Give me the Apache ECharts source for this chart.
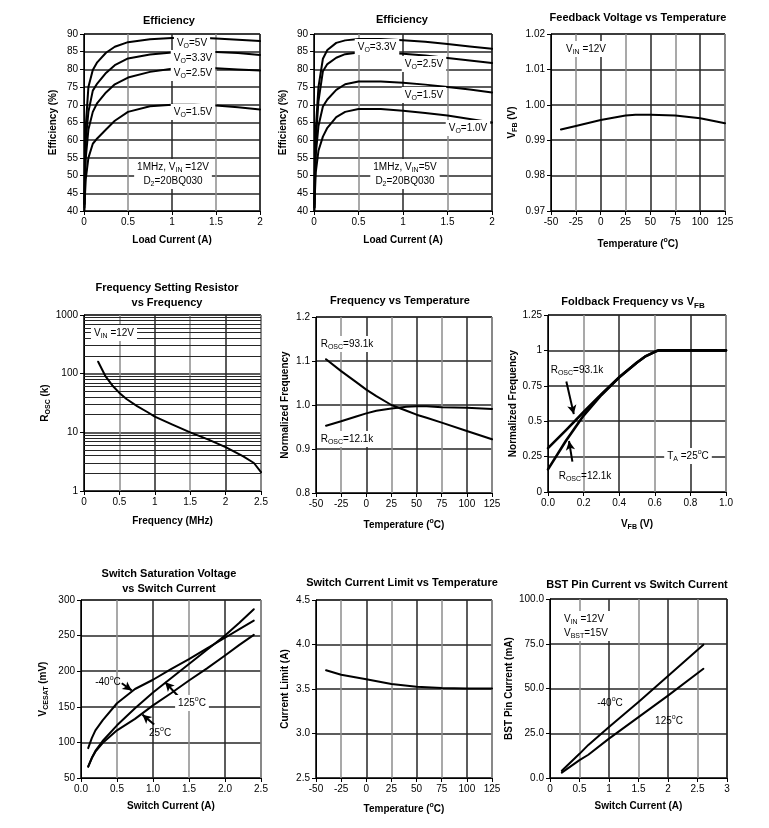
<!DOCTYPE html>
<html><head><meta charset="utf-8">
<script src="https://cdn.jsdelivr.net/npm/echarts@6/dist/echarts.min.js"></script>
<style>body{margin:0;background:#fff}#c{width:769px;height:828px}</style>
</head><body><div id="c"></div>
<script>
// ---------- DATA ----------
const loadA = [0.005,0.01,0.02,0.05,0.1,0.15,0.25,0.35,0.5,0.75,1.0,1.25,1.5,1.75,2.0];
const eff12_5V  = [42,53,64,75,79.8,82,84.7,86.4,87.7,88.5,88.9,89.0,88.7,88.4,88.0];
const eff12_33V = [42,50,60,68,74,76,79,81.2,83.1,84.2,84.8,84.9,84.9,84.6,84.1];
const eff12_25V = [41,47,55,63,68,70.5,73.5,75.8,77.7,79.3,80.2,80.4,80.3,80.0,79.7];
const eff12_15V = [40,44,49,55,59,60.5,63,65.5,68,69.6,70,70,69.8,69.3,68.7];
const eff5_33V = [42,52,63,75,83,85.5,87.5,88.2,88.6,88.6,88.2,87.8,87.2,86.5,85.8];
const eff5_25V = [41,50,60,71,79.5,81.5,83.3,84.3,84.8,84.8,84.4,83.9,83.2,82.5,81.8];
const eff5_15V = [41,48,56,64,69.5,71.5,74.2,75.8,76.6,76.6,76.2,75.7,75.0,74.3,73.5];
const eff5_10V = [40,45,51,57,61,63.5,66.5,68,68.8,68.8,68.3,67.7,67.0,66.0,65.0];
const fbTemp = [-40,-25,0,25,35,50,75,100,125];
const fbVolt = [0.9930,0.9940,0.9957,0.9970,0.9972,0.9972,0.9970,0.9962,0.9948];
const roscFreq = [0.2,0.3,0.4,0.5,0.6,0.75,0.9,1.0,1.25,1.5,1.75,2.0,2.25,2.4,2.5];
const roscK = [160,92,63,47,37,28,22,18.5,13.5,10,7.6,5.6,3.9,3.0,2.1];
const logMinor = [2,3,4,5,6,7,8,9,20,30,40,50,60,70,80,90,200,300,400,500,600,700,800,900];
const fTemp = [-40,-25,-10,0,10,25,40,50,60,75,100,125];
const fNorm93 = [1.104,1.077,1.052,1.035,1.020,1.0,0.987,0.978,0.971,0.960,0.941,0.922];
const fNorm12 = [0.953,0.963,0.974,0.981,0.987,0.992,0.996,0.997,0.997,0.995,0.994,0.991];
const vfb = [0,0.1,0.2,0.3,0.4,0.5,0.55,0.6,0.62,1.0];
const fold93 = [0.31,0.435,0.565,0.69,0.81,0.915,0.96,0.99,1.0,1.0];
const fold12 = [0.16,0.36,0.54,0.685,0.81,0.915,0.96,0.99,1.0,1.0];
const swI = [0.1,0.15,0.2,0.3,0.5,0.75,1.0,1.25,1.5,1.75,2.0,2.2,2.4];
const vsatM40 = [92,106,117,131,155,175,188,203,217,232,247,259,271];
const vsat25  = [66,78,87,99,117,133,152,169,187,204,222,237,251];
const vsat125 = [66,78,88,102,124,148,170,190,210,230,250,268,287];
const climTemp = [-40,-25,0,25,50,75,100,125];
const climA = [3.71,3.66,3.61,3.555,3.525,3.51,3.505,3.505];
const bstI = [0.2,0.5,0.65,1.0,1.5,2.0,2.6];
const bstM40 = [4,13.5,18.5,28.5,42.5,57,74.5];
const bst125 = [3,10,13,22,34,46,61];

// ---------- HELPERS ----------
const FF = "'Liberation Sans', Arial, sans-serif";
const zip = (xs, ys) => xs.map((x, i) => [x, ys[i]]);
const RICH = {
  n:{fontSize:10,lineHeight:14,verticalAlign:'middle',fontFamily:FF,color:'#000'},
  s:{fontSize:7,lineHeight:14,verticalAlign:'bottom',fontFamily:FF,color:'#000'},
  p:{fontSize:7,lineHeight:14,verticalAlign:'top',fontFamily:FF,color:'#000'},
  bn:{fontSize:10,lineHeight:14,verticalAlign:'middle',fontFamily:FF,fontWeight:'bold',color:'#000'},
  bs:{fontSize:7,lineHeight:14,verticalAlign:'bottom',fontFamily:FF,fontWeight:'bold',color:'#000'},
  bp:{fontSize:7,lineHeight:14,verticalAlign:'top',fontFamily:FF,fontWeight:'bold',color:'#000'},
  t:{fontSize:11,lineHeight:15,verticalAlign:'middle',fontFamily:FF,fontWeight:'bold',color:'#000'},
  ts:{fontSize:8,lineHeight:15,verticalAlign:'bottom',fontFamily:FF,fontWeight:'bold',color:'#000'}
};
const gridBoxes = [
  [84,34,176,177],[314,34,178,177],[551,34,174,177],
  [84,315,177,176],[316,317,176,176],[548,315,178,177],
  [81,600,180,178],[316,600,176,178],[550,599,177,179]
];
const grid = gridBoxes.map(b => ({left:b[0],top:b[1],width:b[2],height:b[3],show:true,borderColor:'#000',borderWidth:1,backgroundColor:'#fff'}));
const DARK = '#262626', GRAY = '#8c8c8c';
function axis(i, o) {
  return Object.assign({
    gridIndex:i, type:'value', nameLocation:'middle',
    nameTextStyle:{fontSize:10,fontWeight:'bold',fontFamily:FF,color:'#000',rich:RICH},
    axisLine:{show:true,onZero:false,lineStyle:{color:'#000',width:1}},
    axisTick:{show:true,inside:false,length:4,lineStyle:{color:'#000'}},
    axisLabel:{fontSize:10,color:'#000',fontFamily:FF,margin:6,formatter:o.fmt},
    splitLine:{show:true,lineStyle:{color:o.gl||DARK,width:1.5}}
  }, o);
}
const f0 = v => String(v), f1 = v => v.toFixed(1), f2 = v => v.toFixed(2);
const TEMPN = '{bn|Temperature (}{bp|o}{bn|C)}';
const xAxis = [
  axis(0,{min:0,max:2,interval:0.5,name:'Load Current (A)',nameGap:24,fmt:f0,gl:[DARK,GRAY]}),
  axis(1,{min:0,max:2,interval:0.5,name:'Load Current (A)',nameGap:24,fmt:f0,gl:[DARK,GRAY]}),
  axis(2,{min:-50,max:125,interval:25,name:TEMPN,nameGap:26,fmt:f0,gl:[DARK,GRAY]}),
  axis(3,{min:0,max:2.5,interval:0.5,name:'Frequency (MHz)',nameGap:25,fmt:f0,gl:[DARK,GRAY]}),
  axis(4,{min:-50,max:125,interval:25,name:TEMPN,nameGap:25,fmt:f0,gl:[DARK,GRAY]}),
  axis(5,{min:0,max:1,interval:0.2,name:'{bn|V}{bs|FB}{bn| (V)}',nameGap:25,fmt:f1,gl:[DARK,GRAY]}),
  axis(6,{min:0,max:2.5,interval:0.5,name:'Switch Current (A)',nameGap:23,fmt:f1,gl:[DARK,GRAY]}),
  axis(7,{min:-50,max:125,interval:25,name:TEMPN,nameGap:24,fmt:f0,gl:[DARK,GRAY]}),
  axis(8,{min:0,max:3,interval:0.5,name:'Switch Current (A)',nameGap:23,fmt:f0,gl:[DARK,GRAY]})
];
const yAxis = [
  axis(0,{min:40,max:90,interval:5,name:'Efficiency (%)',nameGap:26,fmt:f0}),
  axis(1,{min:40,max:90,interval:5,name:'Efficiency (%)',nameGap:26,fmt:f0}),
  axis(2,{min:0.97,max:1.02,interval:0.01,name:'{bn|V}{bs|FB}{bn| (V)}',nameGap:32,fmt:f2}),
  axis(3,{type:'log',logBase:10,min:1,max:1000,name:'{bn|R}{bs|OSC}{bn| (k)}',nameGap:32,fmt:f0}),
  axis(4,{min:0.8,max:1.2,interval:0.1,name:'Normalized Frequency',nameGap:26,fmt:f1}),
  axis(5,{min:0,max:1.25,interval:0.25,name:'Normalized Frequency',nameGap:29,fmt:f0}),
  axis(6,{min:50,max:300,interval:50,name:'{bn|V}{bs|CESAT}{bn| (mV)}',nameGap:31,fmt:f0}),
  axis(7,{min:2.5,max:4.5,interval:0.5,name:'Current Limit (A)',nameGap:26,fmt:f1}),
  axis(8,{min:0,max:100,interval:25,name:'BST Pin Current (mA)',nameGap:36,fmt:f1})
];
function line(i, xs, ys, w, extra) {
  return Object.assign({type:'line',xAxisIndex:i,yAxisIndex:i,data:zip(xs,ys),showSymbol:false,
    smooth:false,lineStyle:{color:'#000',width:w||2,join:'round',cap:'round'},z:5,silent:true,animation:false}, extra||{});
}
function arrows(list) {
  return {markLine:{silent:true,symbol:['none','arrow'],symbolSize:[7,9],animation:false,label:{show:false},
    lineStyle:{color:'#000',width:2,type:'solid'},
    data:list.map(a => [{coord:[a[0],a[1]]},{coord:[a[2],a[3]]}])}};
}
const series = [
  line(0,loadA,eff12_5V),line(0,loadA,eff12_33V),line(0,loadA,eff12_25V),line(0,loadA,eff12_15V),
  line(1,loadA,eff5_33V),line(1,loadA,eff5_25V),line(1,loadA,eff5_15V),line(1,loadA,eff5_10V),
  line(2,fbTemp,fbVolt),
  line(3,roscFreq,roscK,2,{markLine:{silent:true,symbol:'none',animation:false,label:{show:false},z:1,
      lineStyle:{color:DARK,width:1.2,type:'solid'},data:logMinor.map(v => ({yAxis:v}))}}),
  line(4,fTemp,fNorm93),line(4,fTemp,fNorm12),
  line(5,vfb,fold93,2.6,arrows([[0.103,0.78,0.145,0.55]])),
  line(5,vfb,fold12,2.6,arrows([[0.137,0.215,0.118,0.36]])),
  line(6,swI,vsatM40,2,arrows([[0.566,183,0.705,173]])),
  line(6,swI,vsat25,2,arrows([[1.016,125,0.853,139]])),
  line(6,swI,vsat125,2,arrows([[1.354,164.5,1.169,184.5]])),
  line(7,climTemp,climA),
  line(8,bstI,bstM40),line(8,bstI,bst125)
];
function txt(x, y, text, bg, align) {
  return {type:'text',x:x,y:y,z:100,silent:true,style:{text:text,rich:RICH,align:align||'center',verticalAlign:'middle',
    fill:'#000',font:'10px '+FF,backgroundColor:bg===false?null:'#fff',padding:[1,3]}};
}
function title(x, y, text) {
  return {type:'text',x:x,y:y,z:100,silent:true,style:{text:text,rich:RICH,align:'center',verticalAlign:'middle',
    fill:'#000',font:'bold 11px '+FF}};
}
const graphic = [
  title(169,21,'{t|Efficiency}'),
  title(402,20,'{t|Efficiency}'),
  title(638,18,'{t|Feedback Voltage vs Temperature}'),
  title(167,295,'{t|Frequency Setting Resistor}\n{t|vs Frequency}'),
  title(400,301,'{t|Frequency vs Temperature}'),
  title(633,302,'{t|Foldback Frequency vs V}{ts|FB}'),
  title(169,581,'{t|Switch Saturation Voltage}\n{t|vs Switch Current}'),
  title(402,583,'{t|Switch Current Limit vs Temperature}'),
  title(637,585,'{t|BST Pin Current vs Switch Current}'),
  txt(192,43,'{n|V}{s|O}{n|=5V}'),
  txt(193,58,'{n|V}{s|O}{n|=3.3V}'),
  txt(193,73,'{n|V}{s|O}{n|=2.5V}'),
  txt(193,112,'{n|V}{s|O}{n|=1.5V}'),
  txt(173,174,'{n|1MHz, V}{s|IN}{n| =12V}\n{n|D}{s|2}{n|=20BQ030}'),
  txt(377,47,'{n|V}{s|O}{n|=3.3V}'),
  txt(424,64,'{n|V}{s|O}{n|=2.5V}'),
  txt(424,95,'{n|V}{s|O}{n|=1.5V}'),
  txt(468,128,'{n|V}{s|O}{n|=1.0V}'),
  txt(405,174,'{n|1MHz, V}{s|IN}{n|=5V}\n{n|D}{s|2}{n|=20BQ030}'),
  txt(586,49,'{n|V}{s|IN}{n| =12V}'),
  txt(114,333,'{n|V}{s|IN}{n| =12V}'),
  txt(347,344,'{n|R}{s|OSC}{n|=93.1k}'),
  txt(347,439,'{n|R}{s|OSC}{n|=12.1k}'),
  txt(577,370,'{n|R}{s|OSC}{n|=93.1k}',false),
  txt(585,476,'{n|R}{s|OSC}{n|=12.1k}',false),
  txt(688,456,'{n|T}{s|A}{n| =25}{p|o}{n|C}'),
  txt(108,682,'{n|-40}{p|o}{n|C}',false),
  txt(192,703,'{n|125}{p|o}{n|C}'),
  txt(160,733,'{n|25}{p|o}{n|C}',false),
  txt(561,626,'{n|V}{s|IN}{n| =12V}\n{n|V}{s|BST}{n|=15V}',true,'left'),
  txt(610,703,'{n|-40}{p|o}{n|C}',false),
  txt(669,721,'{n|125}{p|o}{n|C}',false)
];
const chart = echarts.init(document.getElementById('c'), null, {renderer:'canvas'});
chart.setOption({animation:false,backgroundColor:'#fff',textStyle:{fontFamily:FF},
  grid:grid,xAxis:xAxis,yAxis:yAxis,series:series,graphic:graphic});
</script></body></html>
